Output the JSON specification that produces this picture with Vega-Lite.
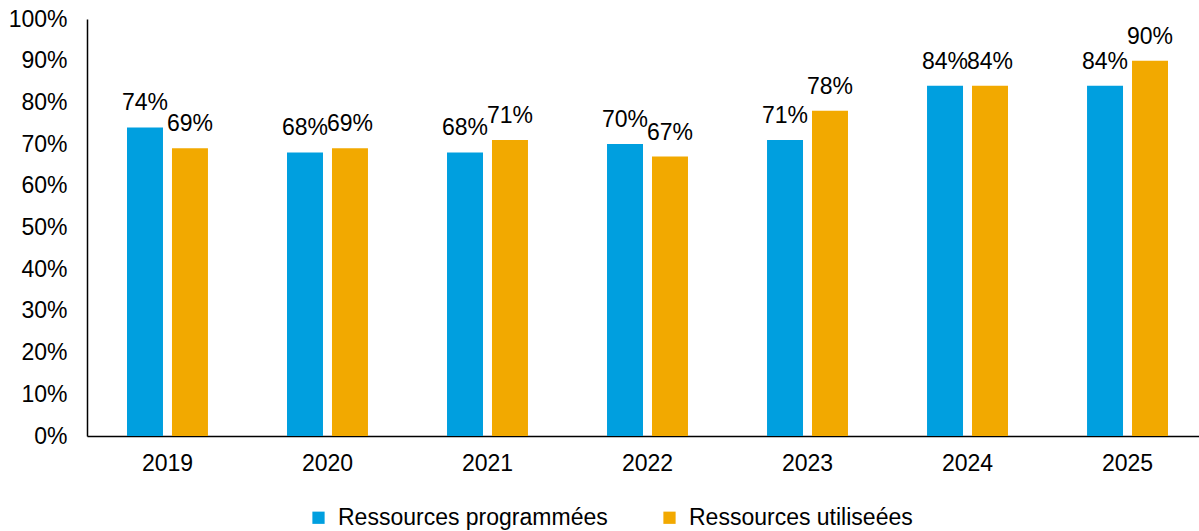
{
  "$schema": "https://vega.github.io/schema/vega-lite/v6.json",
  "width": 1121,
  "height": 417,
  "autosize": {"type": "none"},
  "padding": {"left": 87, "top": 19, "right": 0, "bottom": 95},
  "background": "white",
  "config": {
    "font": "Liberation Sans",
    "view": {"stroke": null},
    "axis": {"labelFont": "Liberation Sans", "labelFontSize": 23, "labelColor": "#000000", "domainColor": "#000000", "domainWidth": 1.5, "ticks": false, "grid": false, "title": null, "labelOverlap": false, "labelFlush": false}
  },
  "data": {
    "values": [
      {"year": "2019", "series": "Ressources programmées", "value": 0.74},
      {"year": "2019", "series": "Ressources utiliseées", "value": 0.69},
      {"year": "2020", "series": "Ressources programmées", "value": 0.68},
      {"year": "2020", "series": "Ressources utiliseées", "value": 0.69},
      {"year": "2021", "series": "Ressources programmées", "value": 0.68},
      {"year": "2021", "series": "Ressources utiliseées", "value": 0.71},
      {"year": "2022", "series": "Ressources programmées", "value": 0.70},
      {"year": "2022", "series": "Ressources utiliseées", "value": 0.67},
      {"year": "2023", "series": "Ressources programmées", "value": 0.71},
      {"year": "2023", "series": "Ressources utiliseées", "value": 0.78},
      {"year": "2024", "series": "Ressources programmées", "value": 0.84},
      {"year": "2024", "series": "Ressources utiliseées", "value": 0.84},
      {"year": "2025", "series": "Ressources programmées", "value": 0.84},
      {"year": "2025", "series": "Ressources utiliseées", "value": 0.90}
    ]
  },
  "encoding": {
    "x": {"field": "year", "type": "nominal", "scale": {"paddingInner": 0.494, "paddingOuter": 0.25}, "axis": {"labelAngle": 0, "labelPadding": 16}},
    "xOffset": {"field": "series", "type": "nominal", "scale": {"paddingInner": 0.2, "paddingOuter": 0}},
    "y": {"field": "value", "type": "quantitative", "scale": {"domain": [0, 1], "nice": false}, "axis": {"format": ".0%", "values": [0,0.1,0.2,0.3,0.4,0.5,0.6,0.7,0.8,0.9,1], "labelPadding": 20}}
  },
  "layer": [
    {
      "mark": {"type": "bar"},
      "encoding": {
        "color": {"field": "series", "type": "nominal", "scale": {"domain": ["Ressources programmées", "Ressources utiliseées"], "range": ["#009FDF", "#F2A900"]},
          "legend": {"orient": "none", "direction": "horizontal", "legendX": 220, "legendY": 487, "title": null, "symbolType": "square", "symbolSize": 150, "symbolStrokeWidth": 0, "labelFontSize": 23, "labelFont": "Liberation Sans", "labelColor": "#000000", "columnPadding": 50, "labelOffset": 8, "labelLimit": 400}}
      }
    },
    {
      "mark": {"type": "text", "baseline": "bottom", "dy": -12, "fontSize": 23, "font": "Liberation Sans", "color": "#000000"},
      "encoding": {
        "text": {"field": "value", "type": "quantitative", "format": ".0%"}
      }
    }
  ]
}
